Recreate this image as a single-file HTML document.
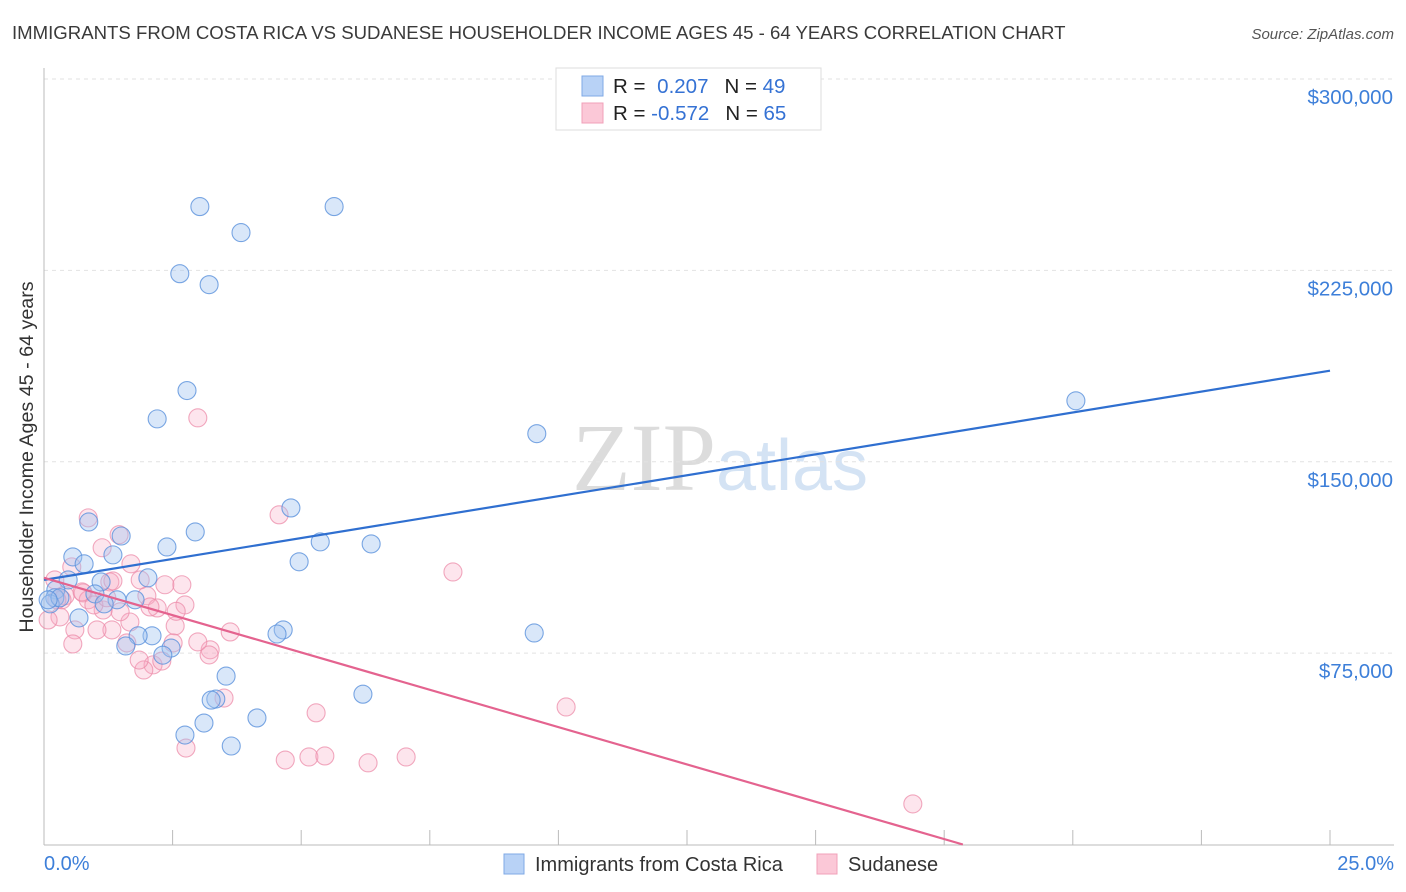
<!DOCTYPE html>
<html><head><meta charset="utf-8"><style>
body{margin:0;background:#fff;font-family:"Liberation Sans",sans-serif;}
svg{display:block}
</style></head><body>
<svg id="chart" width="1406" height="892" viewBox="0 0 1406 892" xmlns="http://www.w3.org/2000/svg">
<text x="12" y="39" font-size="18.6" fill="#3a3a3a">IMMIGRANTS FROM COSTA RICA VS SUDANESE HOUSEHOLDER INCOME AGES 45 - 64 YEARS CORRELATION CHART</text>
<text x="1394" y="39" font-size="15" fill="#555" text-anchor="end" font-style="italic">Source: ZipAtlas.com</text>
<text x="720" y="490" font-size="96" text-anchor="middle" fill="#e3e3e3" font-family="Liberation Serif"><tspan fill="#dcdcdc">ZIP</tspan><tspan fill="#d4e3f4" font-family="Liberation Sans" font-size="72">atlas</tspan></text>
<g id="grid"></g>
<g id="axes"></g>
<g id="pts"></g>
<g id="trends"></g>
<text transform="translate(33,457) rotate(-90)" font-size="19.7" fill="#333" text-anchor="middle">Householder Income Ages 45 - 64 years</text>
<g>
<rect x="556" y="68" width="265" height="62" fill="#fff" stroke="#ddd"/>
<rect x="582" y="76" width="21" height="20" fill="#b8d2f6" stroke="#7fa9e6"/>
<rect x="582" y="103" width="21" height="20" fill="#fbc8d7" stroke="#f0a0b8"/>
<text x="613" y="93" font-size="20.5" fill="#222">R = <tspan fill="#3572d4" dx="6">0.207</tspan><tspan dx="16" fill="#222">N = </tspan><tspan fill="#3572d4">49</tspan></text>
<text x="613" y="120" font-size="20.5" fill="#222">R = <tspan fill="#3572d4">-0.572</tspan><tspan dx="16" fill="#222">N = </tspan><tspan fill="#3572d4">65</tspan></text>
</g>
<g>
<rect x="504" y="854" width="20" height="20" fill="#b8d2f6" stroke="#7fa9e6"/>
<text x="535" y="871" font-size="20" fill="#333">Immigrants from Costa Rica</text>
<rect x="817" y="854" width="20" height="20" fill="#fbc8d7" stroke="#f0a0b8"/>
<text x="848" y="871" font-size="20" fill="#333">Sudanese</text>
</g>
</svg>
<script>
const yTicks=[75000,150000,225000,300000];
const yTickLabels=["$75,000","$150,000","$225,000","$300,000"];
const xTickLabels=["0.0%","25.0%"];
const blueX=[3.03,5.64,3.83,2.64,3.21,2.78,2.20,9.58,20.06,4.80,0.87,2.94,1.50,5.37,6.36,2.39,0.56,1.34,4.96,0.78,2.02,0.47,1.11,0.23,0.99,0.21,1.77,1.42,1.17,0.12,0.68,2.10,1.83,4.65,4.53,9.53,1.59,2.47,2.31,3.54,6.20,3.34,3.25,4.14,3.11,2.74,3.64,0.31,0.08];
const blueY=[250.0,250.0,239.8,223.7,219.4,177.9,166.8,161.0,173.9,131.9,126.4,122.5,120.9,118.6,117.8,116.6,112.7,113.5,110.8,110.0,104.5,103.7,102.9,99.8,98.2,96.7,95.9,95.9,94.3,94.3,88.8,81.8,81.8,84.1,82.5,82.9,77.8,77.0,74.2,66.0,58.9,57.0,56.6,49.6,47.6,42.9,38.6,96.7,95.9];
const pinkX=[0.86,1.46,1.13,1.69,0.54,1.28,2.35,2.68,0.76,2.00,2.74,2.20,2.99,4.57,7.95,10.15,5.29,16.89,2.76,3.50,4.69,5.15,5.46,6.30,7.04,3.62,3.23,3.21,2.99,2.55,2.51,2.12,1.94,1.85,1.67,1.61,1.32,1.03,0.60,0.56,0.31,0.08,0.21,0.41,1.87,1.34,2.06,1.48,1.15,0.86,0.97,0.35,0.74,1.22,2.57,2.29,0.25];
const pinkY=[128.0,121.4,116.3,110.0,108.8,102.9,101.8,101.8,98.6,97.5,93.9,92.7,167.2,129.2,106.8,53.9,51.6,15.9,37.8,57.4,33.1,34.3,34.7,32.0,34.3,83.3,76.3,74.3,79.4,85.7,79.0,70.4,68.4,72.3,87.2,79.0,84.1,84.1,84.1,78.6,89.2,88.0,103.7,97.5,103.7,103.3,93.1,91.2,91.9,95.9,93.9,95.9,99.0,96.7,91.4,71.9,95.9];
const blueTrend=[103.7,185.7];
const pinkTrend=[104.5,-5.85];
const NS="http://www.w3.org/2000/svg";
const X0=44,X1=1330,Y0=844.5,YTOP=79;
const sx=v=>X0+(v/25)*(X1-X0);
const sy=v=>Y0-(v/300000)*(Y0-YTOP);
function mk(t,a,p){const e=document.createElementNS(NS,t);for(const k in a)e.setAttribute(k,a[k]);p.appendChild(e);return e;}
const grid=document.getElementById('grid'),axes=document.getElementById('axes'),pts=document.getElementById('pts'),tr=document.getElementById('trends');
yTicks.forEach((v,i)=>{
 const l=mk('line',{x1:X0,x2:1394,y1:sy(v),y2:sy(v),stroke:'#e2e2e2','stroke-dasharray':'4,4'},grid);
 
 
 const t=mk('text',{x:1393,y:sy(v)+25,'font-size':20.5,fill:'#3d7fd9','text-anchor':'end'},axes);
 t.textContent=yTickLabels[i];
 
 
});
const ya=mk('line',{x1:X0,x2:X0,y1:68,y2:845,stroke:'#bbb'},axes);


const xa=mk('line',{x1:X0,x2:1394,y1:845,y2:845,stroke:'#bbb'},axes);


for(let i=1;i<=10;i++){
 const tk=mk('line',{x1:sx(i*2.5),x2:sx(i*2.5),y1:830,y2:845,stroke:'#bbb'},axes);
 
 
}
const xl0=mk('text',{x:44,y:870,'font-size':20,fill:'#3d7fd9'},axes);xl0.textContent=xTickLabels[0];


const xl1=mk('text',{x:1394,y:870,'font-size':20,fill:'#3d7fd9','text-anchor':'end'},axes);xl1.textContent=xTickLabels[1];


pinkX.forEach((v,i)=>{
 const c=mk('circle',{cx:sx(v),cy:sy(pinkY[i]*1000),r:9,fill:'rgba(248,170,195,0.3)',stroke:'rgba(236,140,170,0.75)','stroke-width':1.1},pts);
 
 
});
blueX.forEach((v,i)=>{
 const c=mk('circle',{cx:sx(v),cy:sy(blueY[i]*1000),r:9,fill:'rgba(160,196,240,0.4)',stroke:'rgba(90,145,220,0.8)','stroke-width':1.1},pts);
 
 
});
const bl=mk('line',{x1:sx(0),y1:sy(blueTrend[0]*1000),x2:sx(25),y2:sy(blueTrend[1]*1000),stroke:'#2f6fd0','stroke-width':2.2},tr);


const xEnd=-pinkTrend[0]/pinkTrend[1];
const pl=mk('line',{x1:sx(0),y1:sy(pinkTrend[0]*1000),x2:sx(xEnd),y2:sy(0),stroke:'#e4638f','stroke-width':2.2},tr);


</script>
</body></html>
